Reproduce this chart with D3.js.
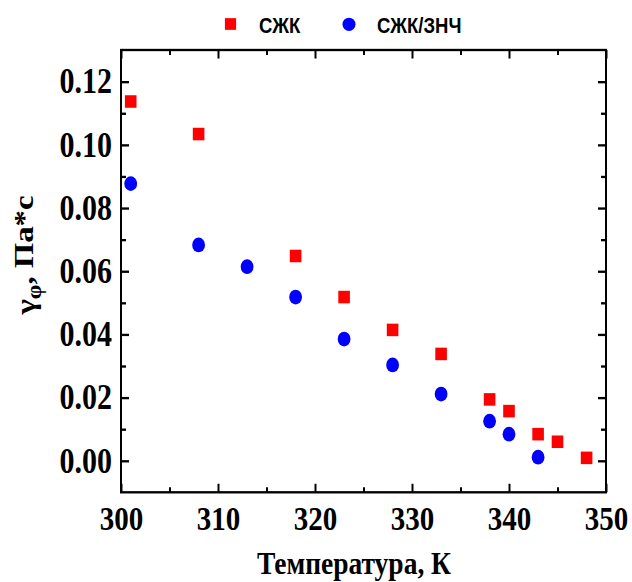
<!DOCTYPE html>
<html>
<head>
<meta charset="utf-8">
<script src="https://cdn.jsdelivr.net/npm/d3@7"></script>
<style>
  body { margin: 0; background: #fff; }
  svg { display: block; }
</style>
</head>
<body>
<div id="chart"></div>
<script>
// values
const seriesNames = ['СЖК', 'СЖК/ЗНЧ'];
const tempA = [301, 308, 318, 323, 328, 333, 338, 340, 343, 345, 348];
const viscA = [0.1137, 0.1034, 0.0648, 0.0518, 0.0414, 0.0338, 0.0194, 0.0157, 0.0084, 0.0060, 0.0009];
const tempB = [301, 308, 313, 318, 323, 328, 333, 338, 340, 343];
const viscB = [0.0877, 0.0683, 0.0614, 0.0518, 0.0385, 0.0303, 0.0211, 0.0125, 0.0084, 0.0011];
const xMajor = [300, 310, 320, 330, 340, 350];
const xMinor = [305, 315, 325, 335, 345];
const yMajor = [0, 0.02, 0.04, 0.06, 0.08, 0.10, 0.12];
const yMinor = [0.01, 0.03, 0.05, 0.07, 0.09, 0.11];

const width = 632;
const height = 582;
const k = 1.17; // the original picture is stretched vertically
const margin = { top: 50, bottom: 492.3, left: 121, right: 606 };

const svg = d3.select('#chart')
  .append('svg')
  .attr('width', width)
  .attr('height', height);

const root = svg.append('g').attr('transform', `scale(1,${k})`);

const x = d3.scaleLinear()
  .domain([300, 350])
  .range([margin.left, margin.right]);

const y = d3.scaleLinear()
  .domain([-0.01, 0.13])
  .range([margin.bottom / k, margin.top / k]);

const serif = '"Liberation Serif", "Times New Roman", serif';
const sans = '"Liberation Sans", Arial, sans-serif';

const x0 = margin.left, x1 = margin.right;
const y0 = margin.bottom / k, y1 = margin.top / k;

function styleAxis(g) {
  g.select('.domain').remove();
  g.selectAll('line').attr('stroke', '#000').attr('stroke-width', 2);
}

// bottom
root.append('g')
  .attr('transform', `translate(0,${y0})`)
  .call(d3.axisBottom(x).tickValues(xMajor).tickSize(-7.3).tickPadding(11.6).tickFormat(d3.format('d')))
  .call(styleAxis)
  .call(g => g.selectAll('text')
    .attr('font-family', serif).attr('font-weight', 'bold').attr('font-size', '29px').attr('fill', '#000'));
root.append('g')
  .attr('transform', `translate(0,${y0})`)
  .call(d3.axisBottom(x).tickValues(xMinor).tickSize(-4.3).tickFormat(''))
  .call(styleAxis);
// top
root.append('g')
  .attr('transform', `translate(0,${y1})`)
  .call(d3.axisTop(x).tickValues(xMajor).tickSize(-7.3).tickFormat(''))
  .call(styleAxis);
root.append('g')
  .attr('transform', `translate(0,${y1})`)
  .call(d3.axisTop(x).tickValues(xMinor).tickSize(-4.3).tickFormat(''))
  .call(styleAxis);
// left
root.append('g')
  .attr('transform', `translate(${x0},0)`)
  .call(d3.axisLeft(y).tickValues(yMajor).tickSize(-8).tickPadding(9).tickFormat(d3.format('.2f')))
  .call(styleAxis)
  .call(g => g.selectAll('text')
    .attr('font-family', serif).attr('font-weight', 'bold').attr('font-size', '30px').attr('fill', '#000'));
root.append('g')
  .attr('transform', `translate(${x0},0)`)
  .call(d3.axisLeft(y).tickValues(yMinor).tickSize(-5).tickFormat(''))
  .call(styleAxis);
// right
root.append('g')
  .attr('transform', `translate(${x1},0)`)
  .call(d3.axisRight(y).tickValues(yMajor).tickSize(-8).tickFormat(''))
  .call(styleAxis);
root.append('g')
  .attr('transform', `translate(${x1},0)`)
  .call(d3.axisRight(y).tickValues(yMinor).tickSize(-5).tickFormat(''))
  .call(styleAxis);

// frame
root.append('rect')
  .attr('x', x0).attr('y', y1)
  .attr('width', x1 - x0).attr('height', y0 - y1)
  .attr('fill', 'none').attr('stroke', '#000').attr('stroke-width', 2);

// series
const sq = 11.6;
root.append('g')
  .attr('fill', '#ff0000')
  .selectAll('rect')
  .data(tempA.map((t, i) => [t, viscA[i]]))
  .join('rect')
    .attr('x', d => x(d[0]) - sq / 2)
    .attr('y', d => y(d[1]) - sq / 2 / k * 1.08)
    .attr('width', sq)
    .attr('height', sq / k * 1.08);

root.append('g')
  .attr('fill', '#0000ff')
  .selectAll('ellipse')
  .data(tempB.map((t, i) => [t, viscB[i]]))
  .join('ellipse')
    .attr('cx', d => x(d[0]))
    .attr('cy', d => y(d[1]))
    .attr('rx', 6.4)
    .attr('ry', 6.3);

// legend
const leg = root.append('g');
leg.append('rect')
  .attr('x', 230.5 - 5.6).attr('y', 24 / k - 5).attr('width', 11.2).attr('height', 10)
  .attr('fill', '#ff0000');
leg.append('text')
  .attr('x', 259).attr('y', 32.8 / k)
  .attr('font-family', sans).attr('font-weight', 'bold').attr('font-size', '18.5px')
  .text(seriesNames[0]);
leg.append('ellipse')
  .attr('cx', 349).attr('cy', 24.3 / k).attr('rx', 6.5).attr('ry', 5.7)
  .attr('fill', '#0000ff');
leg.append('text')
  .attr('x', 377).attr('y', 32.8 / k)
  .attr('font-family', sans).attr('font-weight', 'bold').attr('font-size', '18.5px')
  .text(seriesNames[1]);

// axis titles
root.append('text')
  .attr('x', 354).attr('y', 574.3 / k)
  .attr('text-anchor', 'middle')
  .attr('font-family', serif).attr('font-weight', 'bold').attr('font-size', '27.5px')
  .text('Температура, К');

const yt = root.append('text')
  .attr('transform', `translate(35,${255 / k}) rotate(-90)`)
  .attr('text-anchor', 'middle')
  .attr('font-family', serif).attr('font-weight', 'bold').attr('font-size', '28px');
yt.append('tspan').text('γ');
yt.append('tspan').attr('dy', '0.3em').attr('font-size', '20px').text('φ');
yt.append('tspan').attr('dy', '-0.3em').text(', Па*с');
</script>
</body>
</html>
